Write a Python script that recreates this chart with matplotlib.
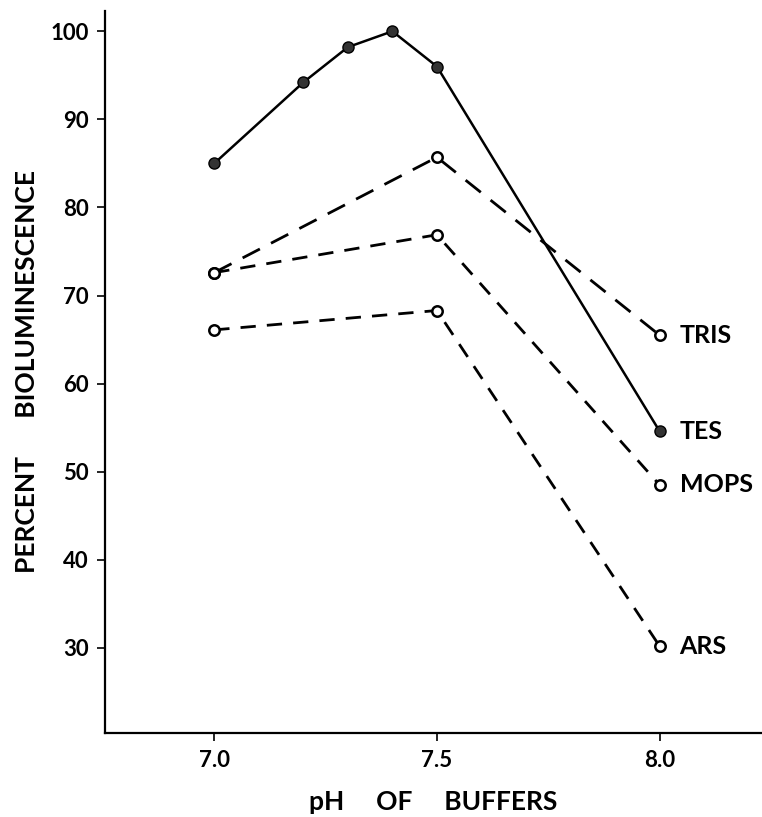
import matplotlib
matplotlib.use("Agg")
import matplotlib.pyplot as plt

# =========================
# DONNÉES
# =========================

ph_tes = [7.0, 7.2, 7.3, 7.4, 7.5, 8.0]
tes = [85.0, 94.2, 98.2, 100.0, 96.0, 54.6]

ph_buf = [7.0, 7.5, 8.0]
tris = [72.6, 85.7, 65.5]
mops = [72.6, 76.9, 48.5]
ars = [66.1, 68.3, 30.2]

xticks = [7.0, 7.5, 8.0]
xticklabels = ["7.0", "7.5", "8.0"]
yticks = [30, 40, 50, 60, 70, 80, 90, 100]

# =========================
# FIGURE
# =========================

plt.rcParams["font.family"] = ["Lato", "DejaVu Sans"]
poids = "bold"

fig = plt.figure(figsize=(7.62, 8.17), dpi=100)
ax = fig.add_axes([0.138, 0.103, 0.862, 0.8835])

ax.plot(ph_tes, tes, color="black", lw=1.8, marker="o", ms=8,
        mfc="#333333", mec="black", mew=1.0, zorder=3)

open_style = dict(color="black", lw=2.0, marker="o", ms=7.5,
                  mfc="white", mec="black", mew=1.8, zorder=3)
ax.plot(ph_buf, tris, dashes=(7, 4.5), **open_style)
ax.plot(ph_buf, mops, dashes=(5.5, 4), **open_style)
ax.plot(ph_buf, ars, dashes=(5.5, 4), **open_style)

# étiquettes à droite
for nom, val in [("TRIS", tris[-1]), ("TES", tes[-1]),
                 ("MOPS", mops[-1]), ("ARS", ars[-1])]:
    ax.text(8.045, val, nom, fontsize=18, fontweight=poids,
            ha="left", va="center")

ax.set_xlim(6.755, 8.23)
ax.set_ylim(20.35, 102.3)
ax.set_xticks(xticks)
ax.set_xticklabels(xticklabels)
ax.set_yticks(yticks)

for cote in ["top", "right"]:
    ax.spines[cote].set_visible(False)
for cote in ["left", "bottom"]:
    ax.spines[cote].set_linewidth(1.6)

ax.tick_params(axis="both", direction="out", length=6, width=1.2,
               labelsize=16, pad=6)
for lab in ax.get_xticklabels() + ax.get_yticklabels():
    lab.set_fontweight(poids)

ax.set_xlabel("pH     OF     BUFFERS", fontsize=19, fontweight=poids,
              labelpad=14)
ax.set_ylabel("PERCENT      BIOLUMINESCENCE", fontsize=19,
              fontweight=poids, labelpad=8)

fig.savefig("out.png", dpi=100)
